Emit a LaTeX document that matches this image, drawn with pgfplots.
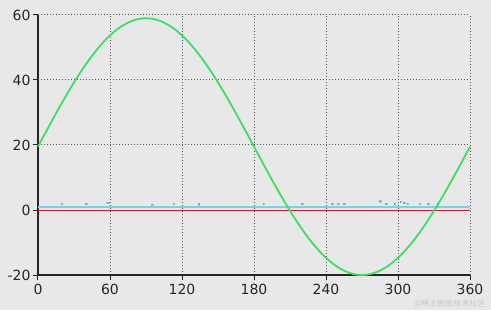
\documentclass[border=0pt]{standalone}
\usepackage{pgfplots}
\pgfplotsset{compat=1.18}
\usetikzlibrary{backgrounds}
\usepackage{fontspec}
\setmainfont{DejaVu Sans}
\newfontfamily\cjk{Noto Sans CJK SC}
\definecolor{bg}{RGB}{232,232,232}
\definecolor{sgreen}{RGB}{60,222,100}
\definecolor{sred}{RGB}{200,30,50}
\definecolor{scyan}{RGB}{110,215,230}
\begin{document}
\begin{tikzpicture}
\begin{axis}[
  name=ax,
  scale only axis,
  width=432pt, height=260pt,
  xmin=0, xmax=360, ymin=-20, ymax=60,
  xtick={0,60,...,360}, ytick={-20,0,...,60},
  axis x line*=bottom, axis y line*=left,
  axis line style={black!85, line width=1.2pt, -},
  tick align=outside, tick style={black!85, line width=1pt},
  major tick length=5pt,
  grid=major,
  grid style={dash pattern=on 1pt off 2pt, black!65, line width=1pt},
  tick label style={font=\fontsize{14}{16}\selectfont, text=black!85},
  /pgf/number format/assume math mode=true,
  xticklabel style={yshift=-1pt},
  yticklabel style={xshift=1pt},
  clip=false,
]
\addplot[sred, line width=1.6pt] coordinates {(0,-0.2) (360,-0.2)};
\addplot[scyan, line width=1.4pt] coordinates {(0,0.9) (360,0.9)};
\addplot[only marks, mark=square*, mark size=0.7pt, scyan!80!black, draw opacity=0.6, fill opacity=0.6] coordinates {
(20,1.9) (40,1.9) (57,2.3) (59,2.2) (95,1.7) (113,1.9) (134,1.8)
(188,1.9) (220,1.9) (245,1.9) (250,2.0) (255,1.9) (285,2.7) (290,1.9)
(297,1.9) (302,2.5) (305,2.2) (308,1.9) (318,1.9) (325,1.9) (333,1.9)};
\addplot[sgreen, line width=1.8pt, smooth] coordinates {
(0,19.5) (5,22.94) (10,26.36) (15,29.72) (20,33.01) (25,36.19) (30,39.25) (35,42.16)
(40,44.89) (45,47.43) (50,49.76) (55,51.86) (60,53.71) (65,55.30) (70,56.62) (75,57.65)
(80,58.40) (85,58.85) (90,59.00) (95,58.85) (100,58.40) (105,57.65) (110,56.62) (115,55.30)
(120,53.71) (125,51.86) (130,49.76) (135,47.43) (140,44.89) (145,42.16) (150,39.25)
(155,36.19) (160,33.01) (165,29.72) (170,26.36) (175,22.94) (180,19.5)
(185,16.06) (190,12.64) (195,9.28) (200,5.99) (205,2.81) (210,-0.25) (215,-3.16)
(220,-5.89) (225,-8.43) (230,-10.76) (235,-12.86) (240,-14.71) (245,-16.30) (250,-17.62)
(255,-18.65) (260,-19.40) (265,-19.85) (270,-20.00) (275,-19.85) (280,-19.40) (285,-18.65)
(290,-17.62) (295,-16.30) (300,-14.71) (305,-12.86) (310,-10.76) (315,-8.43) (320,-5.89)
(325,-3.16) (330,-0.25) (335,2.81) (340,5.99) (345,9.28) (350,12.64) (355,16.06) (360,19.5)};
\end{axis}
\pgfresetboundingbox
\path[use as bounding box] ([xshift=-38pt,yshift=-35pt]ax.south west) rectangle ([xshift=21pt,yshift=15pt]ax.north east);
\begin{scope}[on background layer]
\fill[bg] ([xshift=-38pt,yshift=-35pt]ax.south west) rectangle ([xshift=21pt,yshift=15pt]ax.north east);
\end{scope}
\node[anchor=east, text=black!22, font=\cjk\fontsize{8}{10}\selectfont] at ([xshift=19pt,yshift=-29pt]ax.south east) {@稀土掘金技术社区};
\end{tikzpicture}
\end{document}
